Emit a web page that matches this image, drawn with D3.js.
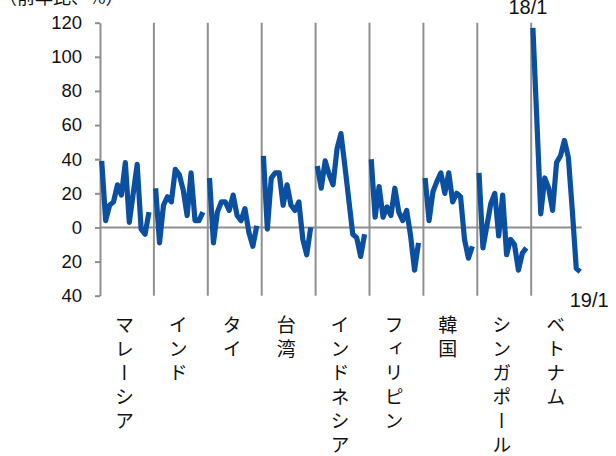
<!DOCTYPE html>
<html><head><meta charset="utf-8">
<script src="https://cdn.jsdelivr.net/npm/d3@7"></script>
<style>
html,body{margin:0;padding:0;background:#fff;}
svg{display:block;}
</style></head>
<body>
<svg id="chart" width="616" height="456"></svg>
<script>
const countries = ["マレーシア","インド","タイ","台湾","インドネシア","フィリピン","韓国","シンガポール","ベトナム"];
const months = ["18/1","18/2","18/3","18/4","18/5","18/6","18/7","18/8","18/9","18/10","18/11","18/12","19/1"];
const malaysia   = [39, 4, 13, 15, 25, 19, 38, 3, 20, 37, -1, -4, 9];
const india      = [23, -9, 13, 18, 15, 34, 31, 22, 7, 32, 4, 4, 9];
const thailand   = [29, -9, 9, 15, 15, 10, 19, 7, 4, 11, -3, -11, 1];
const taiwan     = [42, -1, 29, 32, 32, 13, 25, 13, 10, 15, -7, -16, 0];
const indonesia  = [36, 23, 39, 31, 25, 46, 55, 36, 16, -4, -6, -17, -4];
const philippines= [40, 6, 24, 6, 12, 7, 23, 9, 4, 10, -5, -25, -9];
const korea      = [29, 4, 21, 27, 32, 20, 32, 15, 20, 18, -7, -18, -11];
const singapore  = [32, -12, 1, 14, 20, -5, 19, -16, -7, -10, -25, -15, -12];
const vietnam    = [117, 63, 8, 29, 23, 10, 38, 42, 51, 41, 10, -24, -26];
const seriesValues = [malaysia, india, thailand, taiwan, indonesia, philippines, korea, singapore, vietnam];
const yTicks = [-40, -20, 0, 20, 40, 60, 80, 100, 120];
const title = "（前年比、%）";
const startLabel = "18/1";
const endLabel = "19/1";

const svg = d3.select("#chart");
const gray = "#8f8f8f";
const blue = "#0B4FA0";
const numFont = "'Liberation Sans', Arial, sans-serif";
const jpFont = "'Noto Sans CJK JP', 'Noto Sans', sans-serif";

const y = d3.scaleLinear().domain([-40, 120]).range([295.7, 22.7]);
const xBand = d3.scaleBand().domain(countries).range([100, 585.1]);
const xIn = d3.scalePoint().domain(months).range([1.7, 49]);
const px = (c, m) => xBand(c) + xIn(m);

// title (cut off at top, as in the reference)
svg.append("text").attr("x", -1).attr("y", 3.5)
  .attr("font-family", jpFont).attr("font-size", 18).attr("fill", "#111")
  .text(title);

// y axis
const yAxis = d3.axisLeft(y).tickValues(yTicks).tickSize(5).tickSizeOuter(0)
  .tickPadding(13).tickFormat(d => String(Math.abs(d)));
const gy = svg.append("g").attr("transform", "translate(100,0)").call(yAxis);
gy.select(".domain").attr("stroke", gray).attr("stroke-width", 2);
gy.selectAll(".tick line").attr("stroke", gray).attr("stroke-width", 2);
gy.selectAll(".tick text").attr("font-family", numFont).attr("font-size", 18.5).attr("fill", "#111");

// separators
svg.append("g").selectAll("line").data(countries.slice(1)).join("line")
  .attr("x1", d => xBand(d)).attr("x2", d => xBand(d))
  .attr("y1", y(120)).attr("y2", y(-40))
  .attr("stroke", gray).attr("stroke-width", 2);

// zero line
const lastC = countries[countries.length - 1];
svg.append("line")
  .attr("x1", 100).attr("x2", px(lastC, months[months.length - 1]) + 1.5)
  .attr("y1", y(0)).attr("y2", y(0))
  .attr("stroke", gray).attr("stroke-width", 2);

// lines
const line = d3.line().x(d => d[0]).y(d => d[1]);
countries.forEach((c, i) => {
  const pts = seriesValues[i].map((v, j) => [px(c, months[j]), y(v)]);
  svg.append("path").attr("d", line(pts))
    .attr("fill", "none").attr("stroke", blue).attr("stroke-width", 5.2)
    .attr("stroke-linejoin", "round").attr("stroke-linecap", "butt");
});

// date labels
svg.append("text").attr("x", px(lastC, months[0]) - 5).attr("y", 14)
  .attr("text-anchor", "middle").attr("font-family", numFont).attr("font-size", 20).attr("fill", "#111")
  .text(startLabel);
svg.append("text").attr("x", px(lastC, months[months.length - 1]) + 9).attr("y", 307)
  .attr("text-anchor", "middle").attr("font-family", numFont).attr("font-size", 20).attr("fill", "#111")
  .text(endLabel);

// category labels (vertical)
svg.append("g").selectAll("text").data(countries).join("text")
  .attr("x", d => xBand(d) + xBand.bandwidth() / 2 - 2.5)
  .attr("y", 315)
  .attr("font-family", jpFont).attr("font-size", 19).attr("fill", "#111")
  .style("writing-mode", "vertical-rl").style("text-orientation", "upright")
  .style("letter-spacing", "5px")
  .text(d => d);
</script>
</body></html>
